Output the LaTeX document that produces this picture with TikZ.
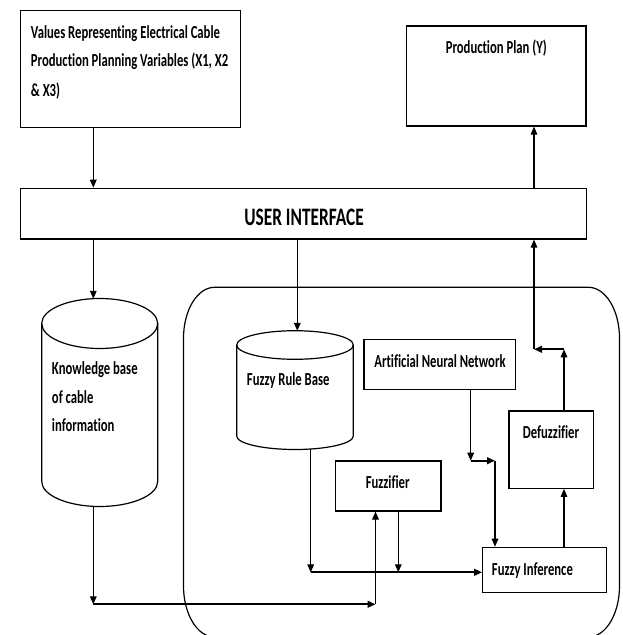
\documentclass[tikz,border=0pt]{standalone}
\usepackage{fontspec}
\setmainfont{Carlito}[Ligatures=NoCommon]
\usepackage{graphicx}
\usetikzlibrary{arrows.meta,fit}
% narrow, tall lettering of the labels
\newcommand\tallt[1]{\scalebox{1}[1.45]{#1}}
\begin{document}
\begin{tikzpicture}[x=0.75pt,y=-0.75pt,
  outline/.style={line width=0.9pt},
  box/.style={draw, line width=0.9pt, inner sep=0pt},
  area/.style={inner sep=0pt},
  txt/.style={inner sep=0pt, font=\bfseries\fontsize{9.5}{11}\selectfont},
  bigtxt/.style={inner sep=0pt, font=\bfseries\fontsize{13}{15}\selectfont},
  conn/.style={line width=0.8pt, -{Triangle[length=6pt,width=5pt]}},
  thickconn/.style={line width=1.6pt, -{Triangle[length=6pt,width=5pt]}},
]
\fill[white] (0,0) rectangle (622,635);
\useasboundingbox (0,0) rectangle (622,635);

% inference engine frame
\begin{scope}
\clip (0,0) rectangle (622,635);
\draw[outline] (214.5,287.3) -- (588.5,287.3)
  arc[start angle=-90,end angle=0,x radius=31,y radius=51] -- (619.5,586)
  arc[start angle=0,end angle=90,x radius=31,y radius=51] -- (214.5,637)
  arc[start angle=90,end angle=180,x radius=31,y radius=51] -- (183.5,338.3)
  arc[start angle=180,end angle=270,x radius=31,y radius=51] -- cycle;
\end{scope}

% input values
\node[box, fit={(20.7,10.7) (240.7,127.3)}] (vals) {};
\node[txt, anchor=base west] (vals-a) at (30.7,38.3) {\tallt{Values Representing Electrical Cable}};
\node[txt, anchor=base west] (vals-b) at (30.7,66.7) {\tallt{Production Planning Variables (X1, X2}};
\node[txt, anchor=base west] (vals-c) at (30.7,96.7) {\tallt{\& X3)}};

% output plan
\node[box, fit={(406.7,26) (586,126)}] (plan) {};
\node[txt, anchor=base] (plan-t) at (496.3,53.3) {\tallt{Production Plan (Y)}};

% user interface
\node[box, fit={(20.7,188.3) (586.5,239)}] (ui) {};
\node[bigtxt, anchor=base] (ui-t) at (304,225.7) {\tallt{USER INTERFACE}};

% knowledge base cylinder
\node[area, fit={(41.7,298.5) (157.7,506.5)}] (kb) {};
\draw[outline] (99.7,323.5) ellipse[x radius=58, y radius=25];
\draw[outline] (41.7,323.5) -- (41.7,481.5)
  arc[start angle=180,end angle=0,x radius=58,y radius=25] -- (157.7,323.5);
\node[txt, anchor=base west] (kb-a) at (51.7,374) {\tallt{Knowledge base}};
\node[txt, anchor=base west] (kb-b) at (51.7,403) {\tallt{of cable}};
\node[txt, anchor=base west] (kb-c) at (51.7,431.7) {\tallt{information}};

% fuzzy rule base cylinder
\node[area, fit={(236.7,330.7) (353.3,449.5)}] (frb) {};
\draw[outline] (295,345) ellipse[x radius=58.3, y radius=14.3];
\draw[outline] (236.7,345) -- (236.7,436)
  arc[start angle=180,end angle=0,x radius=58.3,y radius=13.5] -- (353.3,345);
\node[txt, anchor=base west] (frb-t) at (246.7,385) {\tallt{Fuzzy Rule Base}};

% processing blocks
\node[box, fit={(364,339.5) (515.7,389.3)}] (ann) {};
\node[txt, anchor=base] (ann-t) at (440,367) {\tallt{Artificial Neural Network}};
\node[box, fit={(509,411) (593.3,488.3)}] (defuz) {};
\node[txt, anchor=base] (defuz-t) at (551,438) {\tallt{Defuzzifier}};
\node[box, fit={(335.7,461) (441,511)}] (fuzz) {};
\node[txt, anchor=base] (fuzz-t) at (387.7,488) {\tallt{Fuzzifier}};
\node[box, fit={(482.7,547.3) (606.7,592.3)}] (finf) {};
\node[txt, anchor=base west] (finf-t) at (491.7,575) {\tallt{Fuzzy Inference}};

% connector end and bend points
\coordinate (kbtop) at (93.3,298.8);
\coordinate (kbbot) at (93.3,506.4);
\coordinate (frbtop) at (297.3,330.8);
\coordinate (frbbot) at (310.7,449.2);
\coordinate (e1) at (93.3,604.3);
\coordinate (e2) at (375.5,604.3);
\coordinate (e3) at (310.7,572.3);
\coordinate (e4) at (398.3,572.3);
\coordinate (e5) at (470.7,460.7);
\coordinate (e6) at (495,460.7);
\coordinate (e7) at (564,349.3);
\coordinate (e8) at (534,349.3);

% connectors
\draw[conn] (vals.south -| kbtop) -- (ui.north -| kbtop);
\draw[conn] (ui.north -| e8) -- (plan.south -| e8);
\draw[conn] (ui.south -| kbtop) -- (kbtop);
\draw[conn] (ui.south -| frbtop) -- (frbtop);
\draw[conn] (kbbot) -- (e1);
\draw[thickconn] (e1) -- (e2);
\draw[conn] (e2) -- (fuzz.south -| e2);
\draw[conn] (frbbot) -- (e3);
\draw[thickconn] (e3) -- (finf.west |- e3);
\draw[conn] (fuzz.south -| e4) -- (e4);
\draw[conn] (ann.south -| e5) -- (e5);
\draw[thickconn] (e5) -- (e6);
\draw[conn] (e6) -- (finf.north -| e6);
\draw[conn] (finf.north -| e7) -- (defuz.south -| e7);
\draw[conn] (defuz.north -| e7) -- (e7);
\draw[thickconn] (e7) -- (e8);
\draw[conn] (e8) -- (ui.south -| e8);
\end{tikzpicture}
\end{document}
